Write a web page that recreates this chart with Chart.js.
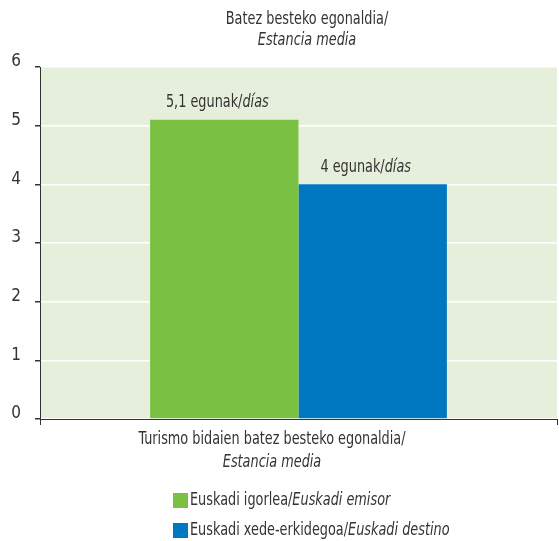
<!DOCTYPE html>
<html>
<head>
<meta charset="utf-8">
<script src="https://cdn.jsdelivr.net/npm/chart.js@4/dist/chart.umd.min.js"></script>
<style>
  html, body { margin: 0; padding: 0; background: #fff; }
  #wrap { width: 559px; height: 541px; }
</style>
</head>
<body>
<div id="wrap"><canvas id="grafico" width="559" height="541"></canvas></div>
<script>
// datos
const tituloEu = 'Batez besteko egonaldia/';
const tituloEs = 'Estancia media';
const categoriaEu = 'Turismo bidaien batez besteko egonaldia/';
const categoriaEs = 'Estancia media';
const seriesEu = ['Euskadi igorlea/', 'Euskadi xede-erkidegoa/'];
const seriesEs = ['Euskadi emisor', 'Euskadi destino'];
const valores = [5.1, 4];
const etiquetasValor = ['5,1', '4'];
const colores = ['#7ac143', '#0077c1'];
const ejeY = [0, 1, 2, 3, 4, 5, 6];

const FUENTE = '"Liberation Sans Narrow", "DejaVu Sans Condensed", "Arial Narrow", sans-serif';
const TEXTO = '#333333';
const TAM = 17;       // tamaño de letra
const ESTRECHO = 0.84; // compresión horizontal del texto

// pinta un texto con tramos normales y cursivos, algo estrechado
const textoMixto = (ctx, partes, x, y, align) => {
    ctx.save();
    ctx.textBaseline = 'middle';
    ctx.textAlign = 'left';
    ctx.fillStyle = TEXTO;
    const fuente = p => (p.it ? 'italic ' : '') + TAM + 'px ' + FUENTE;
    const anchos = partes.map(p => {
        ctx.font = fuente(p);
        return ctx.measureText(p.t).width * ESTRECHO;
    });
    const total = anchos.reduce((a, b) => a + b, 0);
    let cx = align === 'left' ? x : x - total / 2;
    partes.forEach((p, i) => {
        ctx.save();
        ctx.font = fuente(p);
        ctx.translate(cx, y);
        ctx.scale(ESTRECHO, 1);
        ctx.fillText(p.t, 0, 0);
        ctx.restore();
        cx += anchos[i];
    });
    ctx.restore();
};

const decorado = {
    id: 'decorado',
    beforeDraw(chart) {
        const { ctx, chartArea: a } = chart;
        ctx.save();
        ctx.fillStyle = '#e6efdc';
        ctx.fillRect(a.left, a.top, a.right - a.left, a.bottom - a.top);
        ctx.restore();
    },
    afterDatasetsDraw(chart) {
        chart.data.datasets.forEach((ds, i) => {
            const bar = chart.getDatasetMeta(i).data[0];
            textoMixto(chart.ctx, [
                { t: etiquetasValor[i] + ' egunak/' },
                { t: 'días', it: true }
            ], bar.x - 7, bar.y - 17, 'center');
        });
    },
    afterDraw(chart) {
        const ctx = chart.ctx;
        textoMixto(ctx, [{ t: tituloEu }], 307, 20, 'center');
        textoMixto(ctx, [{ t: tituloEs, it: true }], 307, 41, 'center');

        textoMixto(ctx, [{ t: categoriaEu }], 272, 440, 'center');
        textoMixto(ctx, [{ t: categoriaEs, it: true }], 272, 463, 'center');

        seriesEu.forEach((nombre, i) => {
            const y = 493 + i * 30;
            ctx.save();
            ctx.fillStyle = colores[i];
            ctx.fillRect(173, y, 15, 15);
            ctx.restore();
            textoMixto(ctx, [{ t: nombre }, { t: seriesEs[i], it: true }], 190, y + 8, 'left');
        });
    }
};

new Chart(document.getElementById('grafico'), {
    type: 'bar',
    data: {
        labels: [categoriaEu],
        datasets: valores.map((v, i) => ({
            label: seriesEu[i] + seriesEs[i],
            data: [v],
            backgroundColor: colores[i],
            borderWidth: 0,
            barPercentage: 1,
            categoryPercentage: 0.574
        }))
    },
    options: {
        responsive: false,
        animation: false,
        events: [],
        layout: { padding: { top: 67, right: 2, left: 0, bottom: 0 } },
        plugins: {
            legend: { display: false },
            title: { display: false },
            tooltip: { enabled: false }
        },
        scales: {
            x: {
                offset: true,
                grid: { drawOnChartArea: false, offset: true, tickLength: 6, tickColor: TEXTO },
                border: { color: TEXTO },
                ticks: { callback: () => '' },
                afterFit: s => { s.height = 122; }
            },
            y: {
                min: ejeY[0],
                max: ejeY[ejeY.length - 1],
                ticks: {
                    stepSize: 1,
                    color: TEXTO,
                    font: { family: FUENTE, size: 17 },
                    padding: 14,
                    labelOffset: -5
                },
                grid: { color: '#ffffff', lineWidth: 1.5, tickLength: 5, tickColor: TEXTO },
                border: { color: TEXTO },
                afterFit: s => { s.width = 40; }
            }
        }
    },
    plugins: [decorado]
});
</script>
</body>
</html>
